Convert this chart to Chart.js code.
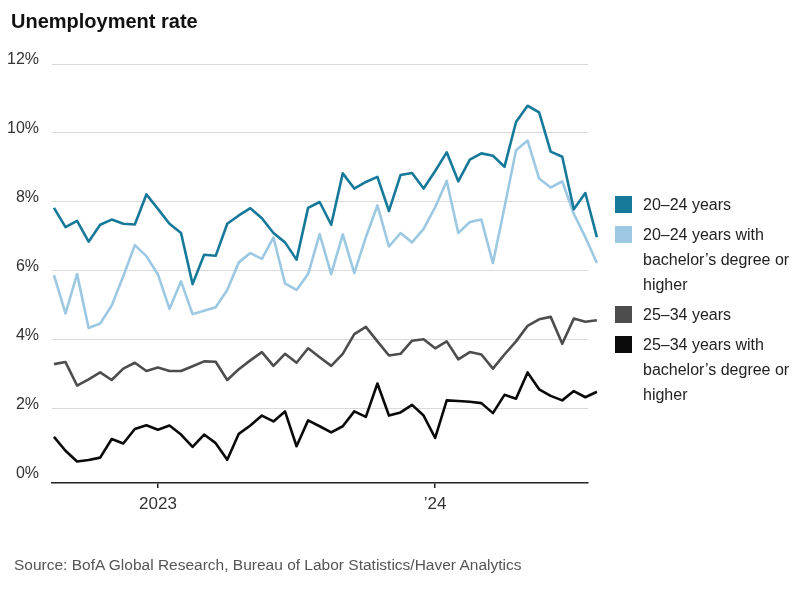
<!DOCTYPE html>
<html>
<head>
<meta charset="utf-8">
<script src="https://cdn.jsdelivr.net/npm/chart.js@4.4.1/dist/chart.umd.min.js"></script>
<style>
  body { margin: 0; background: #fff; }
  #wrap { position: relative; width: 800px; height: 592px; overflow: hidden;
          font-family: 'Liberation Sans', Arial, sans-serif; color: #222; }
  #c { position: absolute; left: 0; top: 0; }
  #title { position: absolute; left: 11px; top: 10px; font-size: 20px; font-weight: bold; color: #111; }
  #legend { position: absolute; left: 615px; top: 192px; width: 185px; }
  .item { position: relative; padding-left: 28px; margin-bottom: 5px; font-size: 16px; line-height: 25px; width: 152px; }
  .item .sw { position: absolute; left: 0; top: 4px; width: 17px; height: 17px; }
  #source { position: absolute; left: 14px; top: 556px; font-size: 15.5px; color: #555; }
</style>
</head>
<body>
<div id="wrap">
  <canvas id="c" width="800" height="592"></canvas>
  <div id="title">Unemployment rate</div>
  <div id="legend"></div>
  <div id="source">Source: BofA Global Research, Bureau of Labor Statistics/Haver Analytics</div>
</div>
<script>
// roughly twice-monthly readings, mid-2022 through summer 2024
const age2024 = [7.83, 7.27, 7.45, 6.85, 7.34, 7.49, 7.37, 7.35, 8.22, 7.80, 7.37, 7.10,
  5.62, 6.47, 6.44, 7.37, 7.61, 7.82, 7.53, 7.10, 6.83, 6.33, 7.83, 8.00,
  7.34, 8.83, 8.39, 8.58, 8.73, 7.74, 8.78, 8.84, 8.39, 8.90, 9.44, 8.60,
  9.23, 9.41, 9.34, 9.02, 10.32, 10.79, 10.60, 9.46, 9.31, 7.79, 8.26, 6.98];
const age2024Bach = [5.88, 4.77, 5.91, 4.35, 4.48, 5.00, 5.85, 6.75, 6.43, 5.90, 4.90, 5.70,
  4.75, 4.85, 4.95, 5.45, 6.25, 6.52, 6.35, 6.97, 5.64, 5.45, 5.91, 7.07,
  5.91, 7.06, 5.94, 6.98, 7.90, 6.71, 7.10, 6.83, 7.22, 7.85, 8.61, 7.10,
  7.42, 7.49, 6.23, 7.85, 9.50, 9.78, 8.68, 8.42, 8.60, 7.66, 6.98, 6.23];
const age2534 = [3.30, 3.36, 2.68, 2.86, 3.06, 2.84, 3.17, 3.34, 3.10, 3.20, 3.10, 3.10,
  3.24, 3.38, 3.37, 2.84, 3.15, 3.41, 3.65, 3.25, 3.60, 3.34, 3.76, 3.50,
  3.25, 3.60, 4.17, 4.38, 3.96, 3.55, 3.60, 3.98, 4.02, 3.76, 3.96, 3.44,
  3.65, 3.58, 3.17, 3.58, 3.96, 4.41, 4.60, 4.67, 3.89, 4.62, 4.53, 4.57];
const age2534Bach = [1.19, 0.79, 0.48, 0.52, 0.59, 1.13, 1.00, 1.42, 1.53, 1.40, 1.52, 1.26,
  0.90, 1.26, 1.01, 0.53, 1.28, 1.52, 1.81, 1.64, 1.93, 0.92, 1.67, 1.50,
  1.32, 1.50, 1.93, 1.77, 2.74, 1.81, 1.90, 2.12, 1.81, 1.16, 2.25, 2.23,
  2.21, 2.17, 1.88, 2.41, 2.30, 3.06, 2.57, 2.38, 2.25, 2.52, 2.34, 2.50];

const seriesNames = ['20\u201324 years', '20\u201324 years with bachelor\u2019s degree or higher',
  '25\u201334 years', '25\u201334 years with bachelor\u2019s degree or higher'];
const xTickPos = [9, 33];
const xTickLabels = ['2023', '\u201924'];
const yTicks = [0, 2, 4, 6, 8, 10, 12];

const COLORS = ['#17799a', '#9cc8e2', '#4d4d4d', '#0a0a0a'];
const FONT = "'Liberation Sans', Arial, sans-serif";

// --- legend (html, wraps like the original) -----------------------
const legend = document.getElementById('legend');
seriesNames.forEach((name, i) => {
  const d = document.createElement('div');
  d.className = 'item';
  d.innerHTML = `<span class="sw" style="background:${COLORS[i]}"></span>${name}`;
  legend.appendChild(d);
});

// --- chart ---------------------------------------------------------
const allSeries = [age2024, age2024Bach, age2534, age2534Bach];
const datasets = allSeries.map((vals, i) => ({
  label: seriesNames[i],
  data: vals.map((v, k) => ({ x: k, y: v })),
  borderColor: COLORS[i],
  borderWidth: 2.6,
  borderJoinStyle: 'round',
  pointRadius: 0,
  tension: 0,
  fill: false,
  clip: false,
}));

Chart.defaults.font.family = FONT;

new Chart(document.getElementById('c').getContext('2d'), {
  type: 'line',
  data: { datasets },
  options: {
    responsive: false,
    animation: false,
    layout: { padding: { left: 0, top: 64, right: 212, bottom: 69 } },
    plugins: { legend: { display: false }, tooltip: { enabled: false } },
    scales: {
      x: {
        type: 'linear',
        min: -0.17, max: 46.23,
        afterBuildTicks: s => { s.ticks = xTickPos.map(v => ({ value: v })); },
        afterFit: s => { s.height = 40; },
        grid: { drawOnChartArea: false, drawTicks: true, tickLength: 5, tickColor: '#222', lineWidth: 1.5 },
        border: { display: true, color: '#222', width: 1.5 },
        ticks: {
          color: '#333', font: { size: 17 }, padding: 6, maxRotation: 0,
          callback: (v, i) => xTickLabels[i]
        }
      },
      y: {
        min: -0.145, max: 12,
        afterBuildTicks: s => { s.ticks = yTicks.map(v => ({ value: v })); },
        afterFit: s => { s.width = 52; },
        grid: {
          drawTicks: false,
          color: c => (c.tick && c.tick.value === 0) ? 'rgba(0,0,0,0)' : '#dadada',
          lineWidth: 1
        },
        border: { display: false },
        ticks: {
          color: '#333', font: { size: 16 }, padding: 13, labelOffset: -4,
          callback: v => `${v}%`
        }
      }
    }
  }
});
</script>
</body>
</html>
